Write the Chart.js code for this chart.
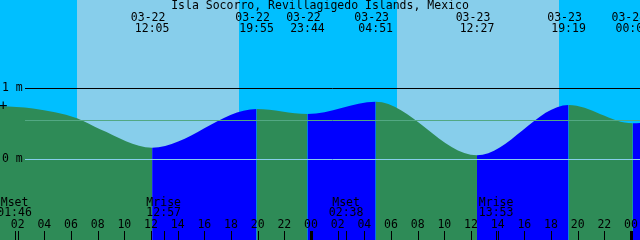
<!DOCTYPE html>
<html>
<head>
<meta charset="utf-8">
<script src="https://cdn.jsdelivr.net/npm/chart.js@4"></script>
<style>
  body { margin: 0; background: #00bfff; }
  canvas { display: block; }
</style>
</head>
<body>
<canvas id="tideChart" width="640" height="240"></canvas>
<script>
// Tide curve: hours since 03-22 00:00, height in metres (highs, lows and a few readings)
const tideHours  = [-5.8, 0.5, 3.15, 6.45, 8.175, 12.083, 19.917, 23.733, 28.85, 36.45, 43.317, 48.133, 54.2];
const tideLevels = [0.25, 0.74, 0.712, 0.575, 0.421, 0.163, 0.705, 0.635, 0.808, 0.056, 0.762, 0.505, 0.8];

// High / low labels along the top
const eventHours = [12.083, 19.917, 23.733, 28.85, 36.45, 43.317, 48.133];
const eventDates = ['03-22', '03-22', '03-22', '03-23', '03-23', '03-23', '03-24'];
const eventTimes = ['12:05', '19:55', '23:44', '04:51', '12:27', '19:19', '00:08'];

// Moon events along the bottom
const moonHours  = [1.767, 12.95, 26.633, 37.883];
const moonNames  = ['Mset', 'Mrise', 'Mset', 'Mrise'];
const moonTimes  = ['01:46', '12:57', '02:38', '13:53'];

// Daylight
const sunriseHours = [6.45, 30.45];
const sunsetHours  = [18.6, 42.6];

// Hour axis
const hourTicks  = [2, 4, 6, 8, 10, 12, 14, 16, 18, 20, 22, 24, 26, 28, 30, 32, 34, 36, 38, 40, 42, 44, 46, 48];
const hourLabels = ['02', '04', '06', '08', '10', '12', '14', '16', '18', '20', '22', '00', '02', '04', '06', '08', '10', '12', '14', '16', '18', '20', '22', '00'];

const title = 'Isla Socorro, Revillagigedo Islands, Mexico';
const meanLevel = 0.55;
const markLevel = 0.74;

const FONT = '11.5px "DejaVu Sans Mono", monospace';

const backdrop = {
    id: 'backdrop',
    beforeDatasetsDraw(chart) {
        const {ctx, chartArea, scales: {x}} = chart;
        ctx.save();
        ctx.fillStyle = '#00bfff';
        ctx.fillRect(chartArea.left, chartArea.top, chartArea.width, chartArea.height);
        ctx.fillStyle = '#87ceeb';
        sunriseHours.forEach((h, i) => {
            const x0 = Math.round(x.getPixelForValue(h));
            const x1 = Math.round(x.getPixelForValue(sunsetHours[i]));
            ctx.fillRect(x0, chartArea.top, x1 - x0, chartArea.height);
        });
        ctx.restore();
    }
};

const overlay = {
    id: 'overlay',
    afterDatasetsDraw(chart) {
        const {ctx, chartArea, scales: {x, y}} = chart;
        ctx.save();

        // level lines
        const hLine = (v, color) => {
            const py = Math.round(y.getPixelForValue(v)) + 0.5;
            ctx.strokeStyle = color;
            ctx.lineWidth = 1;
            ctx.beginPath();
            ctx.moveTo(25, py);
            ctx.lineTo(chartArea.right, py);
            ctx.stroke();
        };
        hLine(1, '#000000');
        hLine(meanLevel, '#52a883');
        hLine(0, '#87ceeb');

        ctx.font = FONT;
        ctx.fillStyle = '#000';
        ctx.textBaseline = 'middle';

        // left labels
        ctx.textAlign = 'left';
        ctx.fillText('1 m', 2, y.getPixelForValue(1));
        ctx.fillText('0 m', 2, y.getPixelForValue(0));
        ctx.font = '14px "DejaVu Sans Mono", monospace';
        ctx.fillText('+', -1, y.getPixelForValue(markLevel));
        ctx.font = FONT;

        // title and tide events
        ctx.textAlign = 'center';
        ctx.fillText(title, chartArea.width / 2, 6);
        eventHours.forEach((h, i) => {
            const px = x.getPixelForValue(h);
            ctx.fillText(eventDates[i], px - 4, 18);
            ctx.fillText(eventTimes[i], px, 29);
        });

        // moon events
        moonHours.forEach((h, i) => {
            const px = x.getPixelForValue(h);
            ctx.fillText(moonNames[i], px, 203);
            ctx.fillText(moonTimes[i], px, 213);
            ctx.fillRect(Math.round(px), 231, 1, 9);
        });

        // hour ticks
        hourTicks.forEach((h, i) => {
            const px = x.getPixelForValue(h);
            ctx.fillText(hourLabels[i], px, 225);
            if (h % 24 === 0) {
                ctx.fillRect(Math.round(px) - 1, 231, 3, 9);
            } else {
                ctx.fillRect(Math.round(px), 231, 1, 9);
            }
        });

        ctx.restore();
    }
};

new Chart(document.getElementById('tideChart'), {
    type: 'line',
    data: {
        datasets: [{
            data: tideHours.map((h, i) => ({x: h, y: tideLevels[i]})),
            fill: 'start',
            borderColor: 'transparent',
            borderWidth: 0,
            pointRadius: 0,
            cubicInterpolationMode: 'monotone',
            backgroundColor: '#2e8b57',
            segment: {
                backgroundColor: ctx => ctx.p1.parsed.y > ctx.p0.parsed.y ? '#0000ff' : '#2e8b57'
            }
        }]
    },
    options: {
        responsive: false,
        animation: false,
        layout: { padding: 0 },
        plugins: {
            legend: { display: false },
            tooltip: { enabled: false }
        },
        scales: {
            x: { type: 'linear', min: 0.675, max: 48.675, display: false },
            y: { type: 'linear', min: -1.132, max: 2.234, display: false }
        }
    },
    plugins: [backdrop, overlay]
});
</script>
</body>
</html>
